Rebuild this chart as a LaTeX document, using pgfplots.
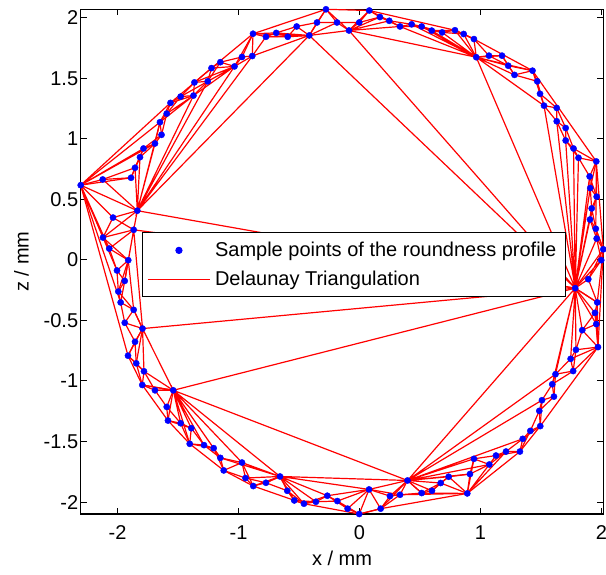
\documentclass[border=0pt]{standalone}
\usepackage{pgfplots}
\pgfplotsset{compat=1.18}
\usepackage{pgfplotstable}
\usepackage{fontspec}
\setmainfont{Liberation Sans}

\pgfplotsset{
  mylinelegend/.style={legend image code/.code={\draw[##1] (0pt,0pt) -- (62pt,0pt);}},
  mymarklegend/.style={legend image code/.code={\draw[mark repeat=2,mark phase=2,##1] plot coordinates {(0pt,0pt) (31pt,0pt) (62pt,0pt)};}},
  edge/.style={red, line width=1.2pt, no marks, forget plot},
}

\pgfplotstableread{
x y
-2.304 0.618
-2.122 0.665
-1.888 0.679
-1.855 0.762
-1.814 0.849
-1.785 0.921
-1.690 0.962
-1.636 1.034
-1.649 1.138
-1.593 1.209
-1.562 1.298
-1.478 1.350
-1.372 1.358
-1.364 1.467
-1.254 1.476
-1.223 1.585
-1.150 1.634
-1.033 1.599
-0.971 1.677
-0.886 1.685
-0.880 1.869
-0.773 1.844
-0.688 1.876
-0.593 1.844
-0.519 1.929
-0.415 1.855
-0.351 1.962
-0.277 2.071
-0.186 1.962
-0.087 1.896
-0.002 1.962
0.081 2.061
0.169 2.007
0.246 1.976
0.335 1.929
0.431 1.947
0.514 1.929
0.597 1.895
0.683 1.880
0.789 1.898
0.861 1.867
0.946 1.825
0.965 1.675
1.070 1.688
1.178 1.688
1.229 1.605
1.281 1.529
1.430 1.564
1.469 1.476
1.492 1.373
1.525 1.275
1.630 1.256
1.630 1.146
1.704 1.090
1.704 0.987
1.769 0.921
1.810 0.844
1.957 0.814
1.902 0.690
1.907 0.594
1.960 0.523
1.919 0.426
1.905 0.334
1.953 0.258
1.960 0.177
2.015 0.088
1.998 -0.002
1.891 -0.159
1.783 -0.233
1.965 -0.351
1.946 -0.437
1.957 -0.530
1.841 -0.580
1.971 -0.720
1.789 -0.742
1.745 -0.817
1.766 -0.918
1.620 -0.944
1.593 -1.027
1.607 -1.129
1.508 -1.159
1.486 -1.247
1.494 -1.373
1.412 -1.412
1.349 -1.478
1.326 -1.583
1.211 -1.583
1.128 -1.616
1.073 -1.690
0.946 -1.643
0.913 -1.769
0.891 -1.929
0.737 -1.791
0.671 -1.843
0.599 -1.907
0.514 -1.926
0.397 -1.822
0.335 -1.940
0.252 -1.951
0.175 -2.055
0.079 -1.896
-0.002 -2.099
-0.098 -2.055
-0.183 -1.992
-0.266 -1.948
-0.360 -1.998
-0.459 -2.014
-0.539 -1.987
-0.597 -1.907
-0.657 -1.789
-0.773 -1.841
-0.878 -1.868
-0.942 -1.802
-0.971 -1.674
-1.122 -1.739
-1.150 -1.635
-1.205 -1.555
-1.285 -1.530
-1.403 -1.519
-1.390 -1.390
-1.478 -1.349
-1.583 -1.327
-1.593 -1.214
-1.539 -1.077
-1.690 -1.077
-1.795 -1.033
-1.781 -0.920
-1.845 -0.854
-1.913 -0.791
-1.855 -0.676
-1.793 -0.567
-1.940 -0.519
-1.866 -0.412
-1.974 -0.351
-1.993 -0.261
-1.940 -0.173
-2.004 -0.087
-1.911 -0.002
-2.068 0.094
-2.120 0.185
-1.866 0.249
-2.037 0.350
-1.836 0.407
}\pts

\begin{document}
\begin{tikzpicture}
\begin{axis}[
  name=ax,
  scale only axis, width=522.6pt, height=504.7pt,
  xmin=-2.304, xmax=2.015, ymin=-2.099, ymax=2.071,
  xtick={-2,-1,0,1,2},
  ytick={-2,-1.5,-1,-0.5,0,0.5,1,1.5,2},
  tick align=inside, xtick pos=both, ytick pos=both,
  major tick length=6pt,
  tick style={black, line width=1pt},
  axis line style={line width=1.5pt},
  /pgf/number format/assume math mode=true,
  ticklabel style={font=\fontsize{20}{24}\selectfont},
  xticklabel style={yshift=-8pt},
  yticklabel style={xshift=1pt},
  label style={font=\fontsize{20}{24}\selectfont},
  xlabel={x / mm}, ylabel={z / mm},
  xlabel shift=4pt, ylabel shift=8pt,
  clip=false,
  legend cell align=left,
  legend style={at={(0.117,0.558)}, anchor=north west, draw=black, line width=1pt,
    fill=white, font=\fontsize{20}{24}\selectfont, inner xsep=5pt, inner ysep=5pt,
    nodes={inner sep=4.5pt}, row sep=4pt},
]
\addplot[only marks, mark=*, mark size=3.1pt, blue, mark options={draw=blue, fill=blue}, mymarklegend]
  table {\pts};
\addlegendentry{Sample points of the roundness profile}
\addplot[red, line width=1.2pt, no marks, mylinelegend]
  table {\pts};
\addlegendentry{Delaunay Triangulation}
% skip-2 chain
\addplot[edge] table[row sep=\\] {
x y\\
-2.304 0.618\\ -1.888 0.679\\ -1.814 0.849\\ -1.690 0.962\\ -1.649 1.138\\ -1.562 1.298\\ -1.372 1.358\\ -1.254 1.476\\ -1.150 1.634\\ -0.971 1.677\\
-0.880 1.869\\ -0.688 1.876\\ -0.519 1.929\\ -0.351 1.962\\ -0.186 1.962\\ -0.002 1.962\\ 0.169 2.007\\ 0.335 1.929\\ 0.514 1.929\\ 0.683 1.880\\
0.861 1.867\\ 0.965 1.675\\ 1.178 1.688\\ 1.281 1.529\\ 1.469 1.476\\ 1.525 1.275\\ 1.630 1.146\\ 1.704 0.987\\ 1.810 0.844\\ 1.902 0.690\\
1.960 0.523\\ 1.905 0.334\\ 1.960 0.177\\ 1.998 -0.002\\ 1.783 -0.233\\ 1.946 -0.437\\ 1.841 -0.580\\ 1.789 -0.742\\ 1.766 -0.918\\ 1.593 -1.027\\
1.508 -1.159\\ 1.494 -1.373\\ 1.349 -1.478\\ 1.211 -1.583\\ 1.073 -1.690\\ 0.913 -1.769\\ 0.737 -1.791\\ 0.599 -1.907\\ 0.397 -1.822\\ 0.252 -1.951\\
0.079 -1.896\\ -0.098 -2.055\\ -0.266 -1.948\\ -0.459 -2.014\\ -0.597 -1.907\\ -0.773 -1.841\\ -0.942 -1.802\\ -1.122 -1.739\\ -1.205 -1.555\\ -1.403 -1.519\\
-1.478 -1.349\\ -1.593 -1.214\\ -1.690 -1.077\\ -1.781 -0.920\\ -1.913 -0.791\\ -1.793 -0.567\\ -1.866 -0.412\\ -1.993 -0.261\\ -2.004 -0.087\\ -2.068 0.094\\
-1.866 0.249\\ -1.836 0.407\\
-2.122 0.665\\ -1.855 0.762\\ -1.785 0.921\\ -1.636 1.034\\ -1.593 1.209\\ -1.478 1.350\\ -1.364 1.467\\ -1.223 1.585\\ -1.033 1.599\\ -0.886 1.685\\
-0.773 1.844\\ -0.593 1.844\\ -0.415 1.855\\ -0.277 2.071\\ -0.087 1.896\\ 0.081 2.061\\ 0.246 1.976\\ 0.431 1.947\\ 0.597 1.895\\ 0.789 1.898\\
0.946 1.825\\ 1.070 1.688\\ 1.229 1.605\\ 1.430 1.564\\ 1.492 1.373\\ 1.630 1.256\\ 1.704 1.090\\ 1.769 0.921\\ 1.957 0.814\\ 1.907 0.594\\
1.919 0.426\\ 1.953 0.258\\ 2.015 0.088\\ 1.891 -0.159\\ 1.965 -0.351\\ 1.957 -0.530\\ 1.971 -0.720\\ 1.745 -0.817\\ 1.620 -0.944\\ 1.607 -1.129\\
1.486 -1.247\\ 1.412 -1.412\\ 1.326 -1.583\\ 1.128 -1.616\\ 0.946 -1.643\\ 0.891 -1.929\\ 0.671 -1.843\\ 0.514 -1.926\\ 0.335 -1.940\\ 0.175 -2.055\\
-0.002 -2.099\\ -0.183 -1.992\\ -0.360 -1.998\\ -0.539 -1.987\\ -0.657 -1.789\\ -0.878 -1.868\\ -0.971 -1.674\\ -1.150 -1.635\\ -1.285 -1.530\\ -1.390 -1.390\\
-1.583 -1.327\\ -1.539 -1.077\\ -1.795 -1.033\\ -1.845 -0.854\\ -1.855 -0.676\\ -1.940 -0.519\\ -1.974 -0.351\\ -1.940 -0.173\\ -1.911 -0.002\\ -2.120 0.185\\
-2.037 0.350\\ -2.304 0.618\\
};
% hull and ring closure
\addplot[edge] table[row sep=\\] {
x y\\
-1.836 0.407\\ -2.304 0.618\\ -1.562 1.298\\ -1.223 1.585\\ -0.880 1.869\\ -0.277 2.071\\ 0.081 2.061\\ 0.789 1.898\\ 0.946 1.825\\ 1.430 1.564\\
1.957 0.814\\ 2.015 0.088\\ 1.971 -0.720\\ 1.494 -1.373\\ 1.326 -1.583\\ 0.891 -1.929\\ 0.175 -2.055\\ -0.002 -2.099\\ -0.459 -2.014\\ -0.878 -1.868\\
-1.122 -1.739\\ -1.403 -1.519\\ -1.583 -1.327\\ -1.795 -1.033\\ -1.913 -0.791\\ -2.304 0.618\\
};
% fans
\addplot[edge] table[row sep=\\] {
x y\\
-2.304 0.618\\ -1.785 0.921\\ -2.304 0.618\\ -1.690 0.962\\ -2.304 0.618\\ -1.649 1.138\\ -2.304 0.618\\ -2.120 0.185\\ -2.304 0.618\\ -2.068 0.094\\
-2.304 0.618\\ -2.004 -0.087\\ -2.304 0.618\\ -1.974 -0.351\\
};
\addplot[edge] table[row sep=\\] {
x y\\
-1.836 0.407\\ -1.855 0.762\\ -1.836 0.407\\ -1.814 0.849\\ -1.836 0.407\\ -1.690 0.962\\ -1.836 0.407\\ -1.649 1.138\\ -1.836 0.407\\ -1.372 1.358\\
-1.836 0.407\\ -1.254 1.476\\ -1.836 0.407\\ -1.033 1.599\\ -1.836 0.407\\ -0.886 1.685\\ -1.836 0.407\\ -0.415 1.855\\ -1.836 0.407\\ 1.783 -0.233\\
-1.836 0.407\\ -2.120 0.185\\
};
\addplot[edge] table[row sep=\\] {
x y\\
-1.866 0.249\\ -1.911 -0.002\\ -1.866 0.249\\ -1.793 -0.567\\ -1.866 0.249\\ 1.783 -0.233\\ -1.866 0.249\\ -1.940 -0.173\\
};
\addplot[edge] table[row sep=\\] {
x y\\
-1.866 -0.412\\ -1.911 -0.002\\ -1.993 -0.261\\
};
\addplot[edge] table[row sep=\\] {
x y\\
-1.793 -0.567\\ -1.866 -0.412\\ -1.793 -0.567\\ -1.845 -0.854\\ -1.793 -0.567\\ -1.781 -0.920\\ -1.793 -0.567\\ -1.539 -1.077\\ -1.793 -0.567\\ 1.783 -0.233\\
};
\addplot[edge] table[row sep=\\] {
x y\\
-1.539 -1.077\\ -1.781 -0.920\\ -1.539 -1.077\\ -1.795 -1.033\\ -1.539 -1.077\\ -1.690 -1.077\\ -1.539 -1.077\\ -1.478 -1.349\\ -1.539 -1.077\\ -1.390 -1.390\\
-1.539 -1.077\\ -1.403 -1.519\\ -1.539 -1.077\\ -1.285 -1.530\\ -1.539 -1.077\\ -1.205 -1.555\\ -1.539 -1.077\\ -1.150 -1.635\\ -1.539 -1.077\\ -0.971 -1.674\\
-1.539 -1.077\\ -0.657 -1.789\\ -1.539 -1.077\\ 0.397 -1.822\\ -1.539 -1.077\\ 1.783 -0.233\\
};
\addplot[edge] table[row sep=\\] {
x y\\
-0.657 -1.789\\ 0.397 -1.822\\ -0.657 -1.789\\ 0.079 -1.896\\ -0.657 -1.789\\ -0.266 -1.948\\ -0.657 -1.789\\ -0.360 -1.998\\ -0.657 -1.789\\ -0.459 -2.014\\
-0.657 -1.789\\ -0.773 -1.841\\ -0.657 -1.789\\ -0.942 -1.802\\ -0.657 -1.789\\ -0.971 -1.674\\ -0.657 -1.789\\ -1.150 -1.635\\
};
\addplot[edge] table[row sep=\\] {
x y\\
0.079 -1.896\\ 0.397 -1.822\\ 0.079 -1.896\\ 0.335 -1.940\\ 0.079 -1.896\\ -0.183 -1.992\\ 0.079 -1.896\\ -0.266 -1.948\\
};
\addplot[edge] table[row sep=\\] {
x y\\
0.397 -1.822\\ 0.175 -2.055\\ 0.397 -1.822\\ 0.514 -1.926\\ 0.397 -1.822\\ 0.671 -1.843\\ 0.397 -1.822\\ 0.737 -1.791\\ 0.397 -1.822\\ 0.913 -1.769\\
0.397 -1.822\\ 0.946 -1.643\\ 0.397 -1.822\\ 1.073 -1.690\\ 0.397 -1.822\\ 1.349 -1.478\\ 0.397 -1.822\\ 1.508 -1.159\\ 0.397 -1.822\\ 1.620 -0.944\\
0.397 -1.822\\ 1.783 -0.233\\
};
\addplot[edge] table[row sep=\\] {
x y\\
0.891 -1.929\\ 1.073 -1.690\\ 0.891 -1.929\\ 1.211 -1.583\\ 0.891 -1.929\\ 0.514 -1.926\\ 0.891 -1.929\\ 0.335 -1.940\\
};
\addplot[edge] table[row sep=\\] {
x y\\
1.783 -0.233\\ -0.415 1.855\\ 1.783 -0.233\\ -0.087 1.896\\ 1.783 -0.233\\ 0.965 1.675\\ 1.783 -0.233\\ 1.525 1.275\\ 1.783 -0.233\\ 1.630 1.146\\
1.783 -0.233\\ 1.704 0.987\\ 1.783 -0.233\\ 1.769 0.921\\ 1.783 -0.233\\ 1.810 0.844\\ 1.783 -0.233\\ 1.902 0.690\\ 1.783 -0.233\\ 1.907 0.594\\
1.783 -0.233\\ 1.919 0.426\\ 1.783 -0.233\\ 1.905 0.334\\ 1.783 -0.233\\ 1.960 0.177\\ 1.783 -0.233\\ 2.015 0.088\\ 1.783 -0.233\\ 1.965 -0.351\\
1.783 -0.233\\ 1.957 -0.530\\ 1.783 -0.233\\ 1.841 -0.580\\ 1.783 -0.233\\ 1.789 -0.742\\ 1.783 -0.233\\ 1.745 -0.817\\ 1.783 -0.233\\ 1.620 -0.944\\
1.783 -0.233\\ 1.593 -1.027\\
};
\addplot[edge] table[row sep=\\] {
x y\\
0.965 1.675\\ 0.335 1.929\\ 0.965 1.675\\ 0.431 1.947\\ 0.965 1.675\\ 0.514 1.929\\ 0.965 1.675\\ 0.597 1.895\\ 0.965 1.675\\ 0.683 1.880\\
0.965 1.675\\ 0.789 1.898\\ 0.965 1.675\\ 1.229 1.605\\ 0.965 1.675\\ 1.281 1.529\\ 0.965 1.675\\ 1.430 1.564\\ 0.965 1.675\\ 1.525 1.275\\
0.965 1.675\\ -0.087 1.896\\
};
\addplot[edge] table[row sep=\\] {
x y\\
-0.087 1.896\\ -0.415 1.855\\ -0.087 1.896\\ 0.169 2.007\\ -0.087 1.896\\ 0.246 1.976\\ -0.087 1.896\\ 0.335 1.929\\
};
\addplot[edge] table[row sep=\\] {
x y\\
-0.415 1.855\\ -0.886 1.685\\ -0.415 1.855\\ -0.880 1.869\\ -0.415 1.855\\ -0.773 1.844\\ -0.415 1.855\\ -0.688 1.876\\ -0.415 1.855\\ -0.186 1.962\\
};
\addplot[edge] table[row sep=\\] {
x y\\
-1.033 1.599\\ -1.478 1.350\\ -1.033 1.599\\ -1.372 1.358\\ -1.033 1.599\\ -1.364 1.467\\ -1.033 1.599\\ -1.254 1.476\\ -1.033 1.599\\ -0.880 1.869\\
};
\addplot[edge] table[row sep=\\] {
x y\\
-1.649 1.138\\ -1.372 1.358\\ -1.593 1.209\\
};
\addplot[edge] table[row sep=\\] {
x y\\
1.960 0.523\\ 1.957 0.814\\ 1.953 0.258\\
};
\addplot[edge] table[row sep=\\] {
x y\\
1.953 0.258\\ 2.015 0.088\\ 1.965 -0.351\\
};
\addplot[edge] table[row sep=\\] {
x y\\
1.965 -0.351\\ 1.971 -0.720\\ 1.946 -0.437\\ 1.971 -0.720\\ 1.766 -0.918\\
};
\end{axis}
\pgfresetboundingbox
\path[use as bounding box] ([xshift=-80.7pt,yshift=-60pt]ax.south west) rectangle ([xshift=2.7pt,yshift=9.3pt]ax.north east);
\end{tikzpicture}
\end{document}
